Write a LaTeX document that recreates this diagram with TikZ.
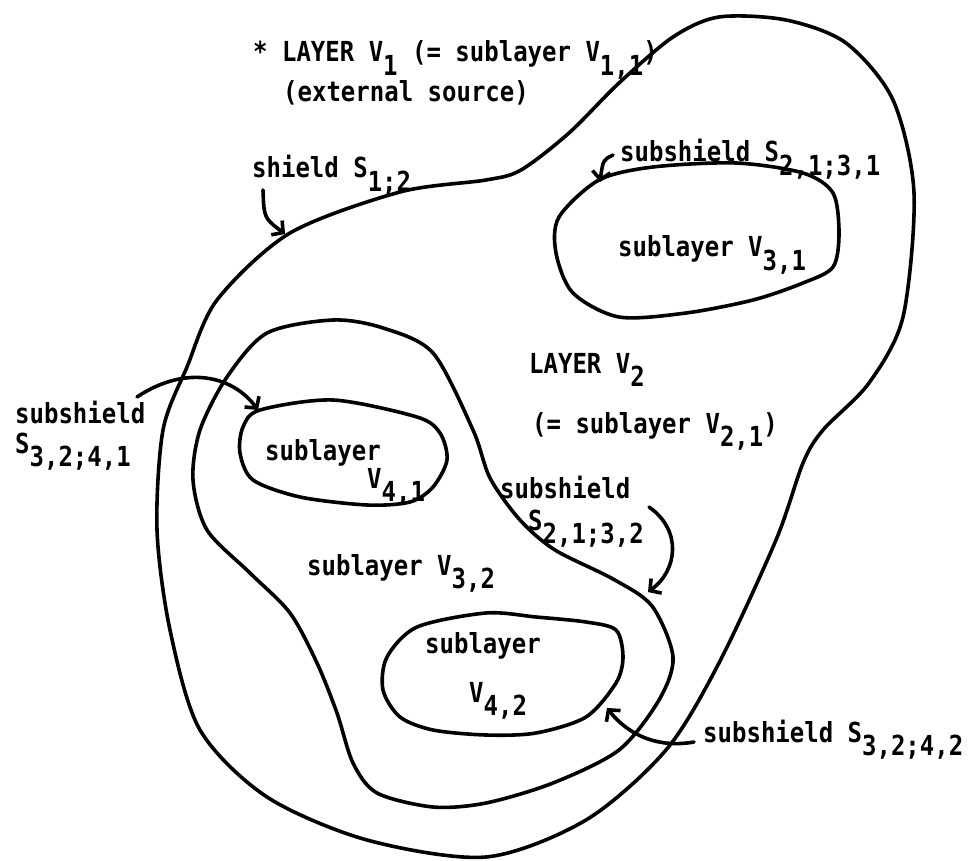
\documentclass[tikz,border=0pt]{standalone}
\usepackage{fontspec}
\setmonofont{DejaVu Sans Mono}
\usetikzlibrary{arrows.meta,positioning}
\newcommand{\lo}[1]{\raisebox{-0.5em}{#1}}
\newcommand{\tall}[1]{\scalebox{1}[1.15]{#1}}

\begin{document}
\begin{tikzpicture}[x=1pt,y=-1pt]
	\tikzstyle{every node}=[font=\ttfamily\bfseries\fontsize{24}{28}\selectfont, inner sep=0pt, anchor=base west]
	\tikzset{shield/.style={line width=3.6pt, line join=round},
		pointer/.style={line width=3.6pt, line cap=round, -{Straight Barb[length=8pt,width=18pt,line width=3.6pt]}}}
	\useasboundingbox (0,0) rectangle (972,861);
	% shield S_{1;2}
	\draw [shield] plot [smooth cycle] coordinates {(163,430) (187,367) (217,300) (290,233) (400,192) (486,180) (521,170) (569,133) (619,83) (673,37) (719,17) (786,20) (846,43) (893,100) (914,193) (903,317) (869,383) (823,430) (803,463) (776,540) (719,663) (666,750) (586,820) (486,857) (367,840) (267,797) (200,730) (170,630) (157,530)};
	% subshield S_{2,1;3,2}
	\draw [shield] plot [smooth cycle] coordinates {(267,333) (333,320) (383,328) (433,353) (473,430) (490,478) (520,520) (555,550) (613,579) (652,606) (673,657) (659,700) (619,750) (553,783) (486,803) (433,807) (377,793) (353,763) (337,713) (317,663) (290,613) (250,573) (207,530) (193,480) (200,430) (227,377)};
	% sublayers
	\draw [shield] plot [smooth cycle] coordinates {(599,180) (653,167) (736,163) (803,173) (833,193) (839,233) (833,267) (803,283) (753,300) (686,313) (619,317) (573,293) (556,253) (559,217)};
	\draw [shield] plot [smooth cycle] coordinates {(260,410) (333,400) (417,417) (440,433) (447,460) (433,487) (410,502) (367,505) (300,497) (253,480) (240,453) (243,427)};
	\draw [shield] plot [smooth cycle] coordinates {(486,613) (536,617) (586,622) (616,630) (623,657) (616,683) (586,717) (536,733) (486,735) (433,730) (400,717) (383,690) (387,657) (417,627)};

	\node (v1) at (253,62) {\tall{* LAYER V\lo{1} (= sublayer V\lo{1,1})}};
	\node (ext) at (283,102) {\tall{(external source)}};
	\node (s12) at (252,178) {\tall{shield S\lo{1;2}}};
	\node (s2131) at (620,162) {\tall{subshield S\lo{2,1;3,1}}};
	\node (v31) at (618,257) {\tall{sublayer V\lo{3,1}}};
	\node (v2) at (529,373) {\tall{LAYER V\lo{2}}};
	\node (v21) at (532,433) {\tall{(= sublayer V\lo{2,1})}};
	\node (s3241a) at (15,423) {\tall{subshield}};
	\node (s3241b) at (15,453) {\tall{S\lo{3,2;4,1}}};
	\node (v41a) at (265,460) {\tall{sublayer}};
	\node (v41b) at (367,488) {\tall{V\lo{4,1}}};
	\node (s2132a) at (500,498) {\tall{subshield}};
	\node (s2132b) at (528,530) {\tall{S\lo{2,1;3,2}}};
	\node (v32) at (307,575) {\tall{sublayer V\lo{3,2}}};
	\node (v42a) at (425,653) {\tall{sublayer}};
	\node (v42b) at (469,702) {\tall{V\lo{4,2}}};
	\node (s3242) at (703,742) {\tall{subshield S\lo{3,2;4,2}}};

	% pointers
	\coordinate (s12tail) at (263,190);
	\coordinate (s12tip) at (285,234);
	\coordinate (s2131tail) at (613,155);
	\coordinate (s2131tip) at (600,182);
	\coordinate (s3241tail) at (137,397);
	\coordinate (s3241tip) at (258,410);
	\coordinate (s2132tail) at (649,507);
	\coordinate (s2132tip) at (648,592);
	\coordinate (s3242tail) at (694,742);
	\coordinate (s3242tip) at (607,708);
	\draw [pointer] (s12tail) .. controls (264,218) .. (s12tip);
	\draw [pointer] (s2131tail) .. controls (603,160) .. (s2131tip);
	\draw [pointer] (s3241tail) .. controls (185,365) and (232,375) .. (s3241tip);
	\draw [pointer] (s2132tail) .. controls (682,530) and (678,570) .. (s2132tip);
	\draw [pointer] (s3242tail) .. controls (660,748) and (630,737) .. (s3242tip);
\end{tikzpicture}
\end{document}
